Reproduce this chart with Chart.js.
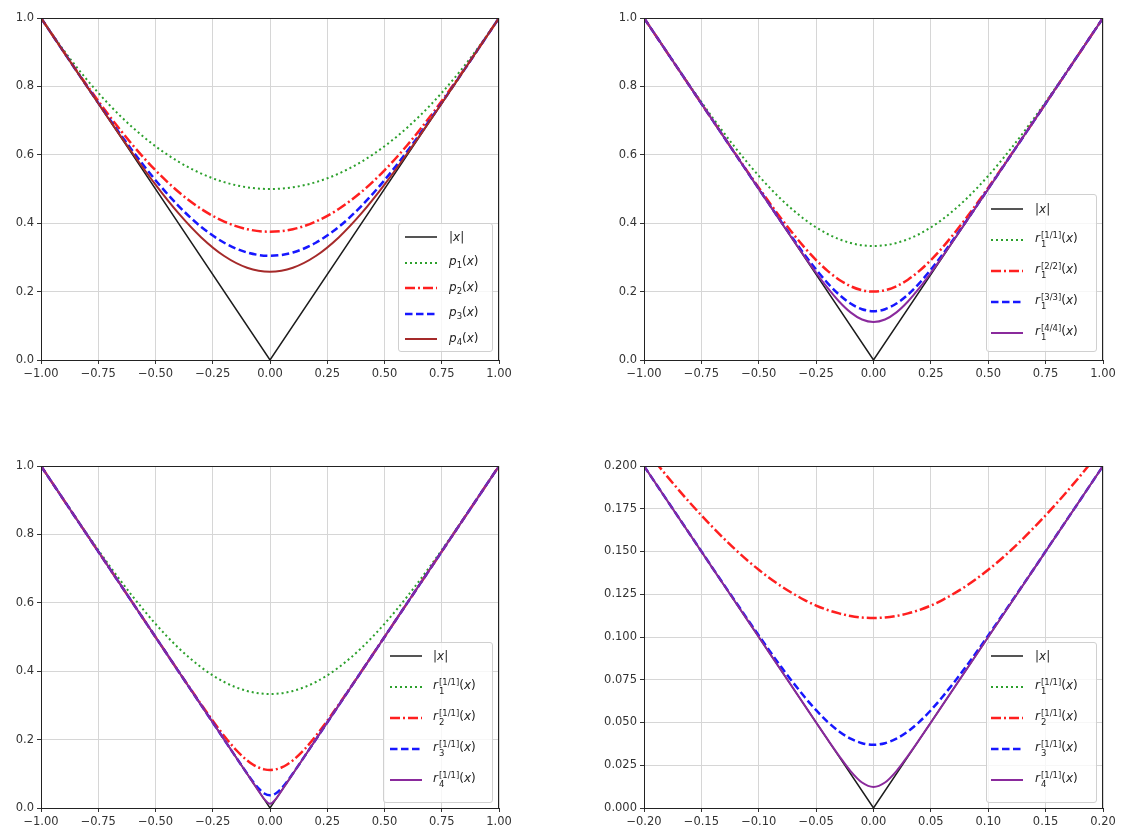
<!DOCTYPE html>
<html>
<head>
<meta charset="utf-8">
<title>|x| approximations</title>
<script src="https://cdn.jsdelivr.net/npm/chart.js@4.4.1/dist/chart.umd.min.js"></script>
<style>
  body { margin: 0; background: #fff; font-family: "DejaVu Sans", sans-serif; }
  #page { position: relative; width: 1121px; height: 832px; overflow: hidden; }
  canvas { position: absolute; }
  .legend {
    position: absolute; box-sizing: border-box;
    border: 1px solid #d0d0d0; border-radius: 3px;
    background: rgba(255, 255, 255, 0.8);
    color: #222; font-size: 12px;
  }
  .row { position: absolute; left: 0; right: 0; display: flex; align-items: center; }
  .row svg { flex: none; }
  .row .t { white-space: nowrap; }
  .ss { display: inline-block; vertical-align: -5px; font-size: 8.5px; line-height: 9px; margin-left: 1px; }
  .ss b { display: block; font-weight: normal; }
  sub { font-size: 8.5px; }
</style>
</head>
<body>
<div id="page"></div>
<script>
// x grids
const xPoly = [-1, -0.9, -0.8, -0.7, -0.6, -0.5, -0.4, -0.3, -0.2, -0.1, 0, 0.1, 0.2, 0.3, 0.4, 0.5, 0.6, 0.7, 0.8, 0.9, 1];
const xPade = [-1, -0.9, -0.8, -0.7, -0.6, -0.5, -0.4, -0.3, -0.25, -0.2, -0.15, -0.1, -0.05, 0, 0.05, 0.1, 0.15, 0.2, 0.25, 0.3, 0.4, 0.5, 0.6, 0.7, 0.8, 0.9, 1];
const xIter = [-1, -0.9, -0.8, -0.7, -0.6, -0.5, -0.4, -0.3, -0.25, -0.2, -0.15, -0.1, -0.075, -0.05, -0.025, 0, 0.025, 0.05, 0.075, 0.1, 0.15, 0.2, 0.25, 0.3, 0.4, 0.5, 0.6, 0.7, 0.8, 0.9, 1];
const xZoom = [-0.2, -0.18, -0.16, -0.14, -0.12, -0.1, -0.08, -0.06, -0.05, -0.04, -0.03, -0.02, -0.01, 0, 0.01, 0.02, 0.03, 0.04, 0.05, 0.06, 0.08, 0.1, 0.12, 0.14, 0.16, 0.18, 0.2];

// |x|
const xAbs = [-1, 0, 1];
const absY = [1, 0, 1];
const xAbsZoom = [-0.2, 0, 0.2];
const absZoomY = [0.2, 0, 0.2];

// top left: p1..p4
const p1 = [1, 0.905, 0.82, 0.745, 0.68, 0.625, 0.58, 0.545, 0.52, 0.505, 0.5, 0.505, 0.52, 0.545, 0.58, 0.625, 0.68, 0.745, 0.82, 0.905, 1];
const p2 = [1, 0.9005, 0.8038, 0.7125, 0.6288, 0.5547, 0.4918, 0.4415, 0.4048, 0.3825, 0.375, 0.3825, 0.4048, 0.4415, 0.4918, 0.5547, 0.6288, 0.7125, 0.8038, 0.9005, 1];
const p3 = [1, 0.9, 0.8008, 0.7037, 0.6111, 0.5258, 0.4509, 0.389, 0.3429, 0.3143, 0.3047, 0.3143, 0.3429, 0.389, 0.4509, 0.5258, 0.6111, 0.7037, 0.8008, 0.9, 1];
const p4 = [1, 0.9, 0.8002, 0.7011, 0.6044, 0.5126, 0.4292, 0.3584, 0.3041, 0.2699, 0.2583, 0.2699, 0.3041, 0.3584, 0.4292, 0.5126, 0.6044, 0.7011, 0.8002, 0.9, 1];

// top right: r1^[n/n]
const pade11 = [1, 0.9003, 0.8022, 0.7077, 0.619, 0.5385, 0.4684, 0.411, 0.3878, 0.3684, 0.3532, 0.3422, 0.3356, 0.3333, 0.3356, 0.3422, 0.3532, 0.3684, 0.3878, 0.411, 0.4684, 0.5385, 0.619, 0.7077, 0.8022, 0.9003, 1];
const pade22 = [1, 0.9, 0.8, 0.7002, 0.6012, 0.5041, 0.4117, 0.3284, 0.2922, 0.2607, 0.2349, 0.2158, 0.204, 0.2, 0.204, 0.2158, 0.2349, 0.2607, 0.2922, 0.3284, 0.4117, 0.5041, 0.6012, 0.7002, 0.8, 0.9, 1];
const pade33 = [1, 0.9, 0.8, 0.7, 0.6001, 0.5005, 0.4021, 0.308, 0.2644, 0.2249, 0.1911, 0.1651, 0.1485, 0.1429, 0.1485, 0.1651, 0.1911, 0.2249, 0.2644, 0.308, 0.4021, 0.5005, 0.6001, 0.7, 0.8, 0.9, 1];
const pade44 = [1, 0.9, 0.8, 0.7, 0.6, 0.5001, 0.4004, 0.3023, 0.2551, 0.2107, 0.1711, 0.1393, 0.1184, 0.1111, 0.1184, 0.1393, 0.1711, 0.2107, 0.2551, 0.3023, 0.4004, 0.5001, 0.6, 0.7, 0.8, 0.9, 1];

// bottom left: r1..r4 ^[1/1]
const iter1 = [1, 0.9003, 0.8022, 0.7077, 0.619, 0.5385, 0.4684, 0.411, 0.3878, 0.3684, 0.3532, 0.3422, 0.3383, 0.3356, 0.3339, 0.3333, 0.3339, 0.3356, 0.3383, 0.3422, 0.3532, 0.3684, 0.3878, 0.411, 0.4684, 0.5385, 0.619, 0.7077, 0.8022, 0.9003, 1];
const iter2 = [1, 0.9, 0.8, 0.7, 0.6, 0.5001, 0.4004, 0.3023, 0.2551, 0.2107, 0.1711, 0.1393, 0.1273, 0.1184, 0.113, 0.1111, 0.113, 0.1184, 0.1273, 0.1393, 0.1711, 0.2107, 0.2551, 0.3023, 0.4004, 0.5001, 0.6, 0.7, 0.8, 0.9, 1];
const iter3 = [1, 0.9, 0.8, 0.7, 0.6, 0.5, 0.4, 0.3, 0.25, 0.2, 0.1501, 0.1009, 0.0776, 0.0572, 0.0425, 0.037, 0.0425, 0.0572, 0.0776, 0.1009, 0.1501, 0.2, 0.25, 0.3, 0.4, 0.5, 0.6, 0.7, 0.8, 0.9, 1];
const iter4 = [1, 0.9, 0.8, 0.7, 0.6, 0.5, 0.4, 0.3, 0.25, 0.2, 0.15, 0.1, 0.075, 0.05, 0.0259, 0.0123, 0.0259, 0.05, 0.075, 0.1, 0.15, 0.2, 0.25, 0.3, 0.4, 0.5, 0.6, 0.7, 0.8, 0.9, 1];

// bottom right: same curves, zoomed
const zoom1 = [0.3684, 0.3618, 0.3559, 0.3506, 0.3461, 0.3422, 0.339, 0.3365, 0.3356, 0.3348, 0.3341, 0.3337, 0.3334, 0.3333, 0.3334, 0.3337, 0.3341, 0.3348, 0.3356, 0.3365, 0.339, 0.3422, 0.3461, 0.3506, 0.3559, 0.3618, 0.3684];
const zoom2 = [0.2107, 0.1941, 0.1785, 0.1641, 0.1509, 0.1393, 0.1295, 0.1216, 0.1184, 0.1158, 0.1138, 0.1123, 0.1114, 0.1111, 0.1114, 0.1123, 0.1138, 0.1158, 0.1184, 0.1216, 0.1295, 0.1393, 0.1509, 0.1641, 0.1785, 0.1941, 0.2107];
const zoom3 = [0.2, 0.18, 0.1601, 0.1401, 0.1204, 0.1009, 0.0821, 0.0649, 0.0572, 0.0504, 0.0448, 0.0406, 0.0379, 0.037, 0.0379, 0.0406, 0.0448, 0.0504, 0.0572, 0.0649, 0.0821, 0.1009, 0.1204, 0.1401, 0.1601, 0.18, 0.2];
const zoom4 = [0.2, 0.18, 0.16, 0.14, 0.12, 0.1, 0.08, 0.06, 0.05, 0.0401, 0.0305, 0.0216, 0.0149, 0.0123, 0.0149, 0.0216, 0.0305, 0.0401, 0.05, 0.06, 0.08, 0.1, 0.12, 0.14, 0.16, 0.18, 0.2];

// ticks
const ticksUnit = [-1, -0.75, -0.5, -0.25, 0, 0.25, 0.5, 0.75, 1];
const ticksY = [0, 0.2, 0.4, 0.6, 0.8, 1];
const ticksZoomX = [-0.2, -0.15, -0.1, -0.05, 0, 0.05, 0.1, 0.15, 0.2];
const ticksZoomY = [0, 0.025, 0.05, 0.075, 0.1, 0.125, 0.15, 0.175, 0.2];

// legend texts
const lblAbs = "|<i>x</i>|";
const lblP = n => "<i>p</i><sub>" + n + "</sub>(<i>x</i>)";
const lblR = (k, d) => "<i>r</i><span class='ss'><b>[" + d + "]</b><b>" + k + "</b></span>(<i>x</i>)";

const looks = {
  abs:    { color: "#1c1c1c", width: 1.5, dash: [] },
  green:  { color: "#2ca02c", width: 2,   dash: [2, 3] },
  red:    { color: "#ff1f1f", width: 2.5, dash: [10, 3, 2, 3] },
  blue:   { color: "#1717ff", width: 2.5, dash: [7.5, 3.5] },
  brown:  { color: "#a52a2a", width: 2,   dash: [] },
  purple: { color: "#8a2a9c", width: 2,   dash: [] },
};

function fmtTick(v, d) {
  return (v < -1e-9 ? "\u2212" : "") + Math.abs(v).toFixed(d);
}

// draws all four spines on top, like matplotlib
const frame = {
  id: "frame",
  afterDatasetsDraw(chart) {
    const a = chart.chartArea;
    const c = chart.ctx;
    c.save();
    c.strokeStyle = "#222";
    c.lineWidth = 1;
    c.strokeRect(Math.round(a.left) + 0.5, Math.round(a.top) + 0.5, Math.round(a.right - a.left) - 1, Math.round(a.bottom - a.top));
    c.restore();
  },
};

const page = document.getElementById("page");
const tickFont = { family: "DejaVu Sans", size: 11.5 };

function axis(min, max, ticks, dec, isX) {
  return {
    type: "linear",
    min: min,
    max: max,
    afterBuildTicks: (s) => { s.ticks = ticks.map((v) => ({ value: v })); },
    afterFit: (s) => { if (isX) s.height = 24; else s.width = 60; },
    ticks: {
      callback: (v) => fmtTick(v, dec),
      font: tickFont,
      color: "#333",
      padding: 3,
      maxRotation: 0,
      autoSkip: false,
    },
    grid: { color: "#d6d6d6", lineWidth: 1, tickLength: 4, tickColor: "#333" },
    border: { color: "#222", width: 1 },
  };
}

function panel(p) {
  const cv = document.createElement("canvas");
  const w = 60 + p.w + 18;
  const h = 12 + p.h + 24 + 6;
  cv.width = w;
  cv.height = h;
  cv.style.left = (p.left - 60) + "px";
  cv.style.top = (p.top - 12) + "px";
  page.appendChild(cv);

  const n = p.series.length;
  new Chart(cv, {
    type: "line",
    data: {
      datasets: p.series.map((s, i) => {
        const lk = looks[s.look];
        return {
          data: s.xs.map((x, j) => ({ x: x, y: s.ys[j] })),
          borderColor: lk.color,
          borderWidth: lk.width,
          borderDash: lk.dash,
          pointRadius: 0,
          fill: false,
          tension: 0,
          cubicInterpolationMode: s.look === "abs" ? "default" : "monotone",
          order: n - i,
        };
      }),
    },
    options: {
      responsive: false,
      animation: false,
      layout: { padding: { left: 0, top: 12, right: 18, bottom: 6 } },
      plugins: { legend: { display: false }, tooltip: { enabled: false } },
      scales: {
        x: axis(p.xMin, p.xMax, p.xTicks, p.xDec, true),
        y: axis(p.yMin, p.yMax, p.yTicks, p.yDec, false),
      },
    },
    plugins: [frame],
  });

  // legend box (lower right, as in the figure)
  const lg = document.createElement("div");
  lg.className = "legend";
  lg.style.left = p.lg.left + "px";
  lg.style.top = p.lg.top + "px";
  lg.style.width = p.lg.width + "px";
  lg.style.height = p.lg.height + "px";
  p.series.forEach((s, i) => {
    const lk = looks[s.look];
    const row = document.createElement("div");
    row.className = "row";
    const cy = p.lg.first + i * p.lg.step - p.lg.top - 1;
    row.style.top = (cy - 10) + "px";
    row.style.height = "20px";
    row.innerHTML =
      "<svg width='32' height='12' style='margin-left:" + p.lg.sample + "px'>" +
      "<line x1='0' y1='6' x2='32' y2='6' stroke='" + lk.color + "' stroke-width='" + lk.width + "'" +
      (lk.dash.length ? " stroke-dasharray='" + lk.dash.join(",") + "'" : "") + "/></svg>" +
      "<span class='t' style='margin-left:" + p.lg.gap + "px'>" + s.label + "</span>";
    lg.appendChild(row);
  });
  page.appendChild(lg);
}

panel({
  left: 41, top: 18, w: 458, h: 342,
  xMin: -1, xMax: 1, yMin: 0, yMax: 1,
  xTicks: ticksUnit, yTicks: ticksY, xDec: 2, yDec: 1,
  series: [
    { look: "abs", xs: xAbs, ys: absY, label: lblAbs },
    { look: "green", xs: xPoly, ys: p1, label: lblP(1) },
    { look: "red", xs: xPoly, ys: p2, label: lblP(2) },
    { look: "blue", xs: xPoly, ys: p3, label: lblP(3) },
    { look: "brown", xs: xPoly, ys: p4, label: lblP(4) },
  ],
  lg: { left: 398, top: 223, width: 95, height: 129, first: 237, step: 25.5, sample: 6, gap: 12 },
});

panel({
  left: 644, top: 18, w: 459, h: 342,
  xMin: -1, xMax: 1, yMin: 0, yMax: 1,
  xTicks: ticksUnit, yTicks: ticksY, xDec: 2, yDec: 1,
  series: [
    { look: "abs", xs: xAbs, ys: absY, label: lblAbs },
    { look: "green", xs: xPade, ys: pade11, label: lblR(1, "1/1") },
    { look: "red", xs: xPade, ys: pade22, label: lblR(1, "2/2") },
    { look: "blue", xs: xPade, ys: pade33, label: lblR(1, "3/3") },
    { look: "purple", xs: xPade, ys: pade44, label: lblR(1, "4/4") },
  ],
  lg: { left: 986, top: 194, width: 111, height: 158, first: 209, step: 31, sample: 4, gap: 12 },
});

panel({
  left: 41, top: 466, w: 458, h: 342,
  xMin: -1, xMax: 1, yMin: 0, yMax: 1,
  xTicks: ticksUnit, yTicks: ticksY, xDec: 2, yDec: 1,
  series: [
    { look: "abs", xs: xAbs, ys: absY, label: lblAbs },
    { look: "green", xs: xIter, ys: iter1, label: lblR(1, "1/1") },
    { look: "red", xs: xIter, ys: iter2, label: lblR(2, "1/1") },
    { look: "blue", xs: xIter, ys: iter3, label: lblR(3, "1/1") },
    { look: "purple", xs: xIter, ys: iter4, label: lblR(4, "1/1") },
  ],
  lg: { left: 383, top: 642, width: 110, height: 161, first: 656, step: 31, sample: 6, gap: 11 },
});

panel({
  left: 644, top: 466, w: 459, h: 342,
  xMin: -0.2, xMax: 0.2, yMin: 0, yMax: 0.2,
  xTicks: ticksZoomX, yTicks: ticksZoomY, xDec: 2, yDec: 3,
  series: [
    { look: "abs", xs: xAbsZoom, ys: absZoomY, label: lblAbs },
    { look: "green", xs: xZoom, ys: zoom1, label: lblR(1, "1/1") },
    { look: "red", xs: xZoom, ys: zoom2, label: lblR(2, "1/1") },
    { look: "blue", xs: xZoom, ys: zoom3, label: lblR(3, "1/1") },
    { look: "purple", xs: xZoom, ys: zoom4, label: lblR(4, "1/1") },
  ],
  lg: { left: 986, top: 642, width: 111, height: 161, first: 656, step: 31, sample: 4, gap: 12 },
});
</script>
</body>
</html>
